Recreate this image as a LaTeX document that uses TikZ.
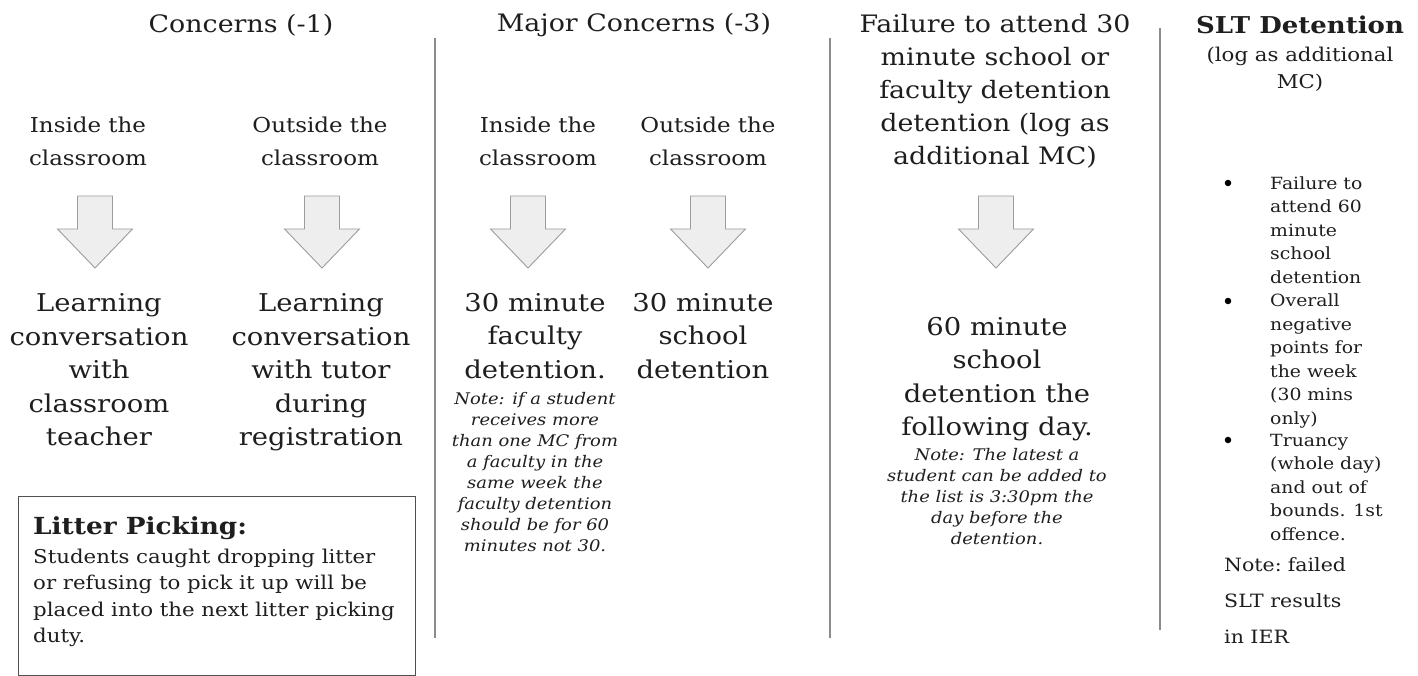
\documentclass[tikz,border=0pt]{standalone}
\usepackage{fontspec}
\setmainfont[FakeStretch=1.12]{DejaVu Serif}
\definecolor{ink}{HTML}{1E1E1E}
\definecolor{sepgray}{HTML}{8C8C8C}
\definecolor{arrowfill}{HTML}{EEEEEE}
\definecolor{arrowline}{HTML}{9C9C9C}
\definecolor{boxline}{HTML}{505050}
\tikzset{
  txt/.style={inner sep=0pt, text=ink, align=center},
  title/.style={txt, font=\fontsize{24}{33}\selectfont},
  sub/.style={txt, font=\fontsize{20.5}{33}\selectfont},
  big/.style={txt, font=\fontsize{24.5}{33.5}\selectfont},
  note/.style={txt, font=\itshape\fontsize{16}{21}\selectfont},
  slt/.style={txt, align=left, font=\fontsize{16.8}{23.5}\selectfont},
  sepline/.style={draw=sepgray, line width=1.5pt},
  arrowshape/.style={draw=arrowline, fill=arrowfill, line width=0.9pt, line join=miter},
  blockarrow/.pic={
    \path[arrowshape] (-17.5,-36) -- (17.5,-36) -- (17.5,-3) -- (37.5,-3) -- (0,36)
      -- (-37.5,-3) -- (-17.5,-3) -- cycle;
    \coordinate (-c) at (0,0);
  },
  dot/.style={circle, fill=black, inner sep=0pt, minimum size=6.5pt},
}
\begin{document}
\begin{tikzpicture}[x=1pt,y=-1pt]
\useasboundingbox (0,0) rectangle (1418,676);

% separators
\coordinate (s1t) at (435,38);  \coordinate (s1b) at (435,638);
\coordinate (s2t) at (830,38);  \coordinate (s2b) at (830,638);
\coordinate (s3t) at (1160,28); \coordinate (s3b) at (1160,630);
\draw[sepline] (s1t) -- (s1b);
\draw[sepline] (s2t) -- (s2b);
\draw[sepline] (s3t) -- (s3b);

% titles
\node[title] (t1) at (241,25) {Concerns (-1)};
\node[title] (t2) at (634,25) {Major Concerns (-3)};
\node[title] (t3) at (995,91) {Failure to attend 30\\minute school or\\faculty detention\\detention (log as\\additional MC)};
\node[txt, font=\bfseries\fontsize{23.2}{28}\selectfont] (t4) at (1300,25) {SLT Detention};
\node[txt, font=\fontsize{19}{27}\selectfont] (t4b) at (1300,69) {(log as additional\\MC)};

% sub headings
\node[sub] (c1a) at (88,141) {Inside the\\classroom};
\node[sub] (c1b) at (320,141) {Outside the\\classroom};
\node[sub] (c2a) at (538,141) {Inside the\\classroom};
\node[sub] (c2b) at (708,141) {Outside the\\classroom};

% arrows
\pic (a1) at (95,232) {blockarrow};
\pic (a2) at (322,232) {blockarrow};
\pic (a3) at (528,232) {blockarrow};
\pic (a4) at (708,232) {blockarrow};
\pic (a5) at (996,232) {blockarrow};

% outcomes
\node[big] (r1) at (99,370) {Learning\\conversation\\with\\classroom\\teacher};
\node[big] (r2) at (321,372.5) {Learning\\conversation\\with tutor\\during\\registration};
\node[big] (r3) at (535,336) {30 minute\\faculty\\detention.};
\node[note] (n3) at (535,472) {Note: if a student\\receives more\\than one MC from\\a faculty in the\\same week the\\faculty detention\\should be for 60\\minutes not 30.};
\node[big] (r4) at (703,336) {30 minute\\school\\detention};
\node[big] (r5) at (997,379) {60 minute\\school\\detention the\\following day.};
\node[note] (n5) at (997,497) {Note: The latest a\\student can be added to\\the list is 3:30pm the\\day before the\\detention.};

% SLT bullets
\node[slt, anchor=west] (b1) at (1270,230) {Failure to\\attend 60\\minute\\school\\detention};
\node[slt, anchor=west] (b2) at (1270,361) {Overall\\negative\\points for\\the week\\(30 mins\\only)};
\node[slt, anchor=west] (b3) at (1270,487) {Truancy\\(whole day)\\and out of\\bounds. 1st\\offence.};
\node[dot] (d1) at (1228,183) {};
\node[dot] (d2) at (1228,301) {};
\node[dot] (d3) at (1228,440) {};
\node[txt, align=left, anchor=west, font=\fontsize{18.3}{36}\selectfont] (nf) at (1224,601) {Note:\,\,failed\\SLT results\\in IER};

% litter box
\node[draw=boxline, line width=1.2pt, anchor=north west, minimum width=397pt, minimum height=179pt, inner sep=0pt] (lit) at (18,496) {};
\node[txt, anchor=west, font=\bfseries\fontsize{23.5}{28}\selectfont] (lith) at (33,528) {Litter Picking:};
\node[txt, anchor=west, align=left, font=\fontsize{19}{26.3}\selectfont] (litb) at (33,598) {Students caught dropping litter\\or refusing to pick it up will be\\placed into the next litter picking\\duty.};
\end{tikzpicture}
\end{document}
